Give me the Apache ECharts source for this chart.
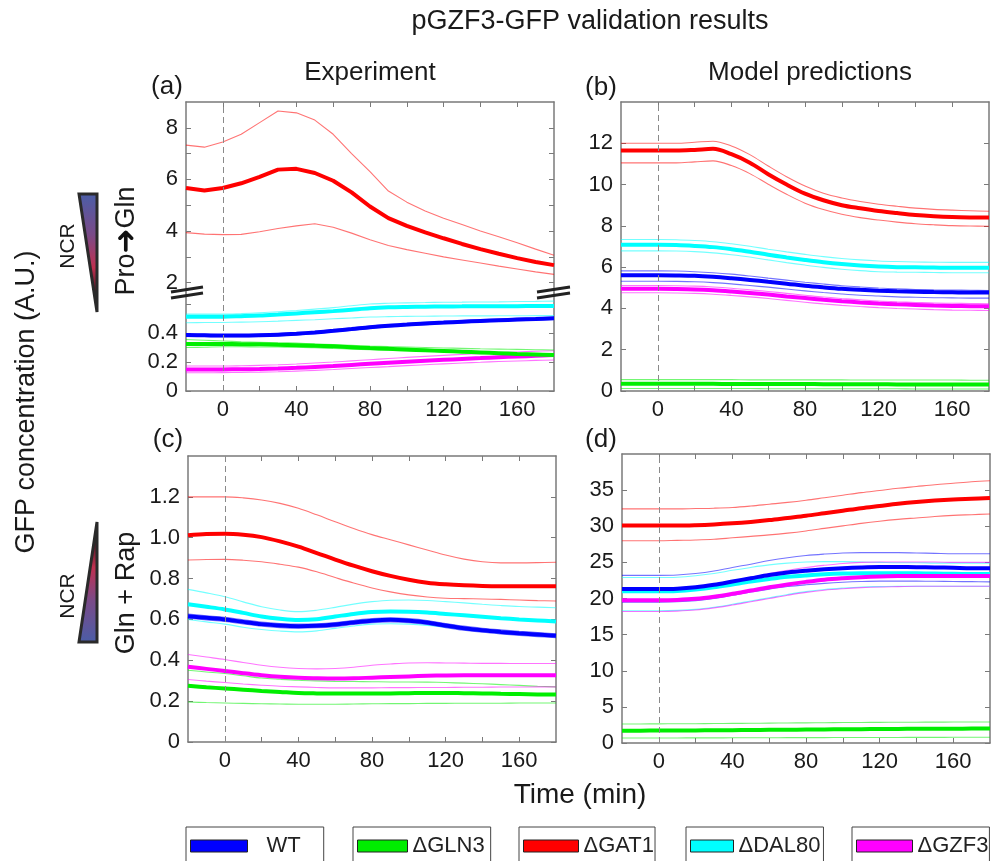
<!DOCTYPE html>
<html><head><meta charset="utf-8">
<script src="https://cdn.jsdelivr.net/npm/echarts@6/dist/echarts.min.js"></script>
<style>html,body{margin:0;padding:0;background:#fff}#c{width:1003px;height:861px}</style>
</head><body><div id="c"></div>
<script>
// ---------------- DATA ----------------
const T = [-20,-10,0,10,20,30,40,50,60,70,80,90,100,110,120,130,140,150,160,170,180];
const strains = ['WT','ΔGLN3','ΔGAT1','ΔDAL80','ΔGZF3'];
const xTicks = [0,20,40,60,80,100,120,140,160];
const xLabels = [0,40,80,120,160];

// (a) Experiment, Pro -> Gln (upper, broken axis part)
const aGAT1   = [5.67,5.57,5.67,5.85,6.1,6.38,6.41,6.25,5.95,5.5,4.95,4.5,4.2,3.95,3.72,3.5,3.3,3.12,2.95,2.8,2.68];
const aGAT1Hi = [7.33,7.25,7.45,7.75,8.2,8.65,8.58,8.3,7.75,7.0,6.3,5.55,5.12,4.78,4.5,4.25,4.0,3.78,3.55,3.3,3.06];
const aGAT1Lo = [3.94,3.88,3.86,3.87,3.97,4.1,4.2,4.28,4.15,3.92,3.66,3.44,3.28,3.14,3.0,2.88,2.76,2.64,2.53,2.42,2.32];
// (a) lower part
const aDAL80   = [0.513,0.513,0.513,0.516,0.52,0.527,0.535,0.543,0.551,0.561,0.571,0.577,0.58,0.582,0.583,0.584,0.585,0.585,0.585,0.586,0.586];
const aDAL80Hi = [0.53,0.53,0.53,0.534,0.54,0.547,0.555,0.565,0.575,0.588,0.6,0.605,0.608,0.61,0.612,0.613,0.614,0.615,0.617,0.618,0.62];
const aDAL80Lo = [0.471,0.472,0.473,0.475,0.478,0.482,0.487,0.492,0.498,0.504,0.51,0.513,0.515,0.516,0.517,0.518,0.518,0.519,0.519,0.52,0.52];
const aWT   = [0.386,0.384,0.382,0.382,0.384,0.388,0.395,0.404,0.415,0.427,0.44,0.45,0.458,0.466,0.472,0.478,0.483,0.488,0.493,0.497,0.501];
const aWTHi = [0.394,0.392,0.39,0.39,0.392,0.396,0.403,0.412,0.423,0.435,0.448,0.458,0.466,0.474,0.48,0.486,0.491,0.496,0.501,0.505,0.509];
const aWTLo = [0.378,0.376,0.374,0.374,0.376,0.38,0.387,0.396,0.407,0.419,0.432,0.442,0.45,0.458,0.464,0.47,0.475,0.48,0.485,0.489,0.493];
const aGLN3   = [0.324,0.324,0.324,0.323,0.322,0.319,0.316,0.312,0.308,0.302,0.296,0.291,0.286,0.281,0.276,0.271,0.266,0.261,0.256,0.252,0.248];
const aGLN3Hi = [0.355,0.35,0.345,0.34,0.336,0.333,0.33,0.325,0.32,0.315,0.31,0.306,0.303,0.3,0.297,0.294,0.291,0.289,0.287,0.285,0.283];
const aGLN3Lo = [0.3,0.302,0.305,0.305,0.304,0.303,0.302,0.298,0.293,0.289,0.285,0.281,0.277,0.273,0.27,0.266,0.262,0.258,0.254,0.25,0.245];
const aGZF3   = [0.149,0.149,0.149,0.15,0.152,0.155,0.16,0.166,0.172,0.18,0.188,0.195,0.202,0.209,0.215,0.221,0.227,0.233,0.238,0.243,0.248];
const aGZF3Hi = [0.172,0.172,0.172,0.174,0.177,0.181,0.186,0.193,0.2,0.208,0.216,0.224,0.232,0.239,0.246,0.252,0.258,0.264,0.269,0.274,0.278];
const aGZF3Lo = [0.126,0.126,0.127,0.128,0.13,0.133,0.137,0.142,0.148,0.155,0.162,0.168,0.175,0.181,0.187,0.193,0.198,0.203,0.207,0.211,0.214];

// (b) Model, Pro -> Gln
const bGAT1   = [11.65,11.65,11.65,11.65,11.68,11.73,11.47,11.06,10.5,10.0,9.56,9.24,9.0,8.85,8.72,8.62,8.53,8.47,8.43,8.41,8.4];
const bGAT1Hi = [12.0,12.0,12.0,12.0,12.05,12.1,11.87,11.45,10.9,10.38,9.93,9.58,9.35,9.18,9.05,8.95,8.86,8.8,8.76,8.73,8.71];
const bGAT1Lo = [11.05,11.05,11.05,11.05,11.1,11.15,10.92,10.53,10.02,9.53,9.1,8.79,8.56,8.4,8.28,8.18,8.1,8.05,8.01,7.99,7.98];
const bDAL80   = [7.08,7.08,7.08,7.07,7.03,6.97,6.87,6.75,6.6,6.47,6.35,6.24,6.15,6.08,6.03,6.0,5.99,5.98,5.97,5.97,5.97];
const bDAL80Hi = [7.34,7.34,7.34,7.33,7.29,7.23,7.13,7.01,6.87,6.74,6.62,6.51,6.42,6.35,6.3,6.27,6.25,6.24,6.23,6.23,6.23];
const bDAL80Lo = [6.79,6.79,6.79,6.78,6.75,6.69,6.6,6.49,6.35,6.22,6.1,5.99,5.9,5.83,5.78,5.76,5.75,5.74,5.73,5.73,5.73];
const bWT   = [5.61,5.61,5.61,5.6,5.58,5.53,5.46,5.38,5.29,5.2,5.1,5.02,4.95,4.9,4.86,4.83,4.81,4.79,4.78,4.77,4.77];
const bWTHi = [5.82,5.82,5.82,5.81,5.78,5.73,5.66,5.57,5.47,5.37,5.27,5.18,5.1,5.04,4.99,4.95,4.92,4.9,4.89,4.88,4.87];
const bWTLo = [5.32,5.32,5.32,5.31,5.29,5.25,5.19,5.11,5.03,4.94,4.85,4.77,4.7,4.64,4.6,4.56,4.54,4.52,4.51,4.5,4.5];
const bGZF3   = [4.95,4.95,4.95,4.94,4.92,4.88,4.82,4.75,4.67,4.58,4.5,4.42,4.35,4.29,4.24,4.2,4.17,4.14,4.12,4.11,4.1];
const bGZF3Hi = [5.11,5.11,5.11,5.1,5.08,5.04,4.98,4.9,4.82,4.73,4.64,4.55,4.48,4.42,4.36,4.32,4.29,4.26,4.25,4.24,4.23];
const bGZF3Lo = [4.76,4.76,4.76,4.75,4.73,4.69,4.63,4.56,4.48,4.39,4.3,4.22,4.15,4.09,4.04,4.0,3.97,3.94,3.92,3.91,3.9];
const bGLN3   = [0.35,0.35,0.35,0.35,0.35,0.35,0.34,0.34,0.34,0.34,0.34,0.33,0.33,0.33,0.33,0.32,0.32,0.32,0.32,0.31,0.31];
const bGLN3Hi = [0.55,0.55,0.55,0.55,0.55,0.55,0.55,0.54,0.54,0.54,0.54,0.54,0.54,0.53,0.53,0.53,0.53,0.53,0.53,0.52,0.52];
const bGLN3Lo = [0.12,0.12,0.12,0.12,0.12,0.12,0.12,0.12,0.11,0.11,0.11,0.11,0.11,0.11,0.11,0.11,0.1,0.1,0.1,0.1,0.1];

// (c) Experiment, Gln + Rap
const cGAT1   = [1.012,1.018,1.02,1.015,1.003,0.982,0.956,0.925,0.893,0.863,0.836,0.813,0.794,0.78,0.772,0.767,0.764,0.763,0.763,0.763,0.763];
const cGAT1Hi = [1.2,1.2,1.2,1.195,1.185,1.168,1.144,1.112,1.078,1.045,1.015,0.99,0.965,0.94,0.915,0.895,0.882,0.877,0.877,0.878,0.88];
const cGAT1Lo = [0.891,0.893,0.894,0.89,0.882,0.87,0.856,0.833,0.805,0.778,0.754,0.735,0.72,0.71,0.704,0.702,0.7,0.698,0.695,0.692,0.69];
const cDAL80   = [0.674,0.662,0.649,0.632,0.614,0.603,0.597,0.601,0.614,0.627,0.636,0.639,0.638,0.634,0.627,0.62,0.613,0.606,0.6,0.595,0.59];
const cDAL80Hi = [0.747,0.73,0.711,0.686,0.662,0.646,0.638,0.645,0.659,0.675,0.687,0.694,0.695,0.693,0.687,0.681,0.674,0.668,0.663,0.66,0.657];
const cDAL80Lo = [0.6,0.588,0.577,0.562,0.551,0.543,0.539,0.544,0.556,0.568,0.577,0.579,0.577,0.571,0.562,0.551,0.541,0.532,0.525,0.52,0.515];
const cWT   = [0.616,0.608,0.6,0.588,0.577,0.57,0.567,0.569,0.575,0.585,0.594,0.598,0.594,0.585,0.57,0.557,0.547,0.539,0.532,0.526,0.52];
const cWTHi = [0.626,0.618,0.61,0.598,0.587,0.58,0.577,0.579,0.585,0.595,0.604,0.608,0.604,0.595,0.58,0.567,0.557,0.549,0.542,0.536,0.53];
const cWTLo = [0.606,0.598,0.59,0.578,0.567,0.56,0.557,0.559,0.565,0.575,0.584,0.588,0.584,0.575,0.56,0.547,0.537,0.529,0.522,0.516,0.51];
const cGZF3   = [0.368,0.358,0.348,0.337,0.327,0.319,0.314,0.312,0.311,0.312,0.315,0.318,0.321,0.324,0.326,0.327,0.327,0.327,0.327,0.327,0.327];
const cGZF3Hi = [0.428,0.416,0.404,0.389,0.376,0.366,0.36,0.358,0.36,0.366,0.376,0.382,0.387,0.388,0.387,0.386,0.385,0.385,0.384,0.384,0.384];
const cGZF3Lo = [0.306,0.298,0.291,0.284,0.278,0.273,0.27,0.267,0.265,0.265,0.265,0.266,0.266,0.267,0.267,0.268,0.268,0.269,0.269,0.27,0.27];
const cGLN3   = [0.275,0.268,0.262,0.256,0.25,0.245,0.24,0.238,0.237,0.237,0.237,0.238,0.239,0.24,0.24,0.239,0.238,0.236,0.235,0.233,0.232];
const cGLN3Hi = [0.351,0.343,0.335,0.324,0.313,0.307,0.302,0.299,0.297,0.296,0.295,0.294,0.294,0.293,0.291,0.288,0.285,0.281,0.277,0.273,0.27];
const cGLN3Lo = [0.196,0.193,0.191,0.189,0.187,0.186,0.185,0.185,0.185,0.186,0.187,0.188,0.188,0.189,0.189,0.19,0.19,0.19,0.191,0.191,0.191];

// (d) Model, Gln + Rap
const dGAT1   = [30.1,30.1,30.1,30.1,30.15,30.25,30.4,30.6,30.85,31.15,31.45,31.8,32.15,32.5,32.8,33.1,33.35,33.55,33.7,33.8,33.9];
const dGAT1Hi = [32.4,32.4,32.4,32.4,32.45,32.5,32.6,32.8,33.05,33.3,33.6,33.95,34.3,34.65,34.95,35.25,35.5,35.75,35.95,36.15,36.3];
const dGAT1Lo = [28.0,28.0,28.0,28.05,28.1,28.2,28.4,28.6,28.8,29.05,29.35,29.7,30.05,30.4,30.7,30.95,31.15,31.35,31.5,31.6,31.7];
const dWT   = [21.3,21.3,21.3,21.35,21.55,21.9,22.35,22.8,23.25,23.6,23.85,24.05,24.2,24.3,24.35,24.35,24.33,24.3,24.25,24.2,24.2];
const dWTHi = [23.2,23.2,23.2,23.25,23.45,23.8,24.3,24.75,25.25,25.65,25.95,26.15,26.3,26.35,26.35,26.35,26.3,26.25,26.2,26.2,26.2];
const dWTLo = [19.5,19.5,19.5,19.55,19.7,20.0,20.45,20.9,21.3,21.65,21.9,22.1,22.25,22.35,22.4,22.4,22.4,22.38,22.35,22.33,22.3];
const dDAL80   = [21.0,21.0,21.0,21.05,21.25,21.55,21.95,22.35,22.7,23.0,23.2,23.35,23.45,23.5,23.5,23.5,23.48,23.45,23.42,23.4,23.4];
const dDAL80Hi = [22.9,22.9,22.9,22.95,23.15,23.45,23.9,24.3,24.65,24.9,25.05,25.1,25.1,25.05,25.0,24.95,24.95,24.9,24.9,24.9,24.9];
const dDAL80Lo = [18.3,18.3,18.3,18.35,18.5,18.8,19.2,19.65,20.1,20.55,20.95,21.25,21.45,21.6,21.65,21.7,21.7,21.7,21.7,21.7,21.7];
const dGZF3   = [19.75,19.75,19.75,19.8,19.95,20.25,20.65,21.1,21.55,21.95,22.3,22.6,22.8,22.95,23.05,23.1,23.12,23.12,23.12,23.1,23.1];
const dGZF3Hi = [21.4,21.4,21.4,21.45,21.65,22.0,22.45,22.95,23.45,23.9,24.3,24.6,24.85,25.0,25.05,25.05,25.05,25.05,25.0,25.0,25.0];
const dGZF3Lo = [18.2,18.2,18.2,18.25,18.4,18.7,19.1,19.55,20.0,20.45,20.85,21.15,21.35,21.5,21.6,21.65,21.7,21.7,21.7,21.7,21.7];
const dGLN3   = [1.71,1.71,1.72,1.73,1.74,1.76,1.78,1.8,1.82,1.84,1.86,1.88,1.9,1.92,1.93,1.95,1.96,1.97,1.98,1.99,1.99];
const dGLN3Hi = [2.64,2.64,2.65,2.66,2.67,2.69,2.71,2.73,2.75,2.77,2.79,2.81,2.83,2.84,2.86,2.87,2.88,2.89,2.9,2.91,2.91];
const dGLN3Lo = [0.69,0.69,0.7,0.7,0.71,0.71,0.72,0.73,0.73,0.74,0.75,0.75,0.76,0.76,0.77,0.77,0.78,0.78,0.79,0.79,0.79];

// ---------------- STYLE / BUILD ----------------
const COL = {'WT':'#0000ff','ΔGLN3':'#00ee00','ΔGAT1':'#ff0000','ΔDAL80':'#00ffff','ΔGZF3':'#ff00ff'};
const SANS = "'Liberation Sans', Arial, Helvetica, sans-serif";
const AX = '#7a7a7a';
const TXT = '#1a1a1a';

const grids = [
  {left:186, top:102, width:368, height:191},
  {left:186, top:293, width:368, height:98},
  {left:621, top:102, width:368, height:289},
  {left:188, top:456, width:368, height:286},
  {left:622, top:454, width:368, height:289}
];
const yCfg = [
  {min:1.6, max:9, ticks:[2,3,4,5,6,7,8], labels:[2,4,6,8], fmt:v=>String(v)},
  {min:0, max:0.676, ticks:[0,0.2,0.4,0.6], labels:[0,0.2,0.4], fmt:v=>v===0?'0':v.toFixed(1)},
  {min:0, max:14, ticks:[0,2,4,6,8,10,12], labels:[0,2,4,6,8,10,12], fmt:v=>String(v)},
  {min:0, max:1.4, ticks:[0,0.2,0.4,0.6,0.8,1.0,1.2], labels:[0,0.2,0.4,0.6,0.8,1.0,1.2], fmt:v=>v===0?'0':v.toFixed(1)},
  {min:0, max:40, ticks:[0,5,10,15,20,25,30,35], labels:[0,5,10,15,20,25,30,35], fmt:v=>String(v)}
];
const showBottom = [false,true,true,true,true];
const showTop = [true,false,true,true,true];

const xAxis = [], yAxis = [];
grids.forEach((g,i)=>{
  const lineS = {show:true, onZero:false, lineStyle:{color:AX, width:1.5}};
  xAxis.push({type:'value', gridIndex:i, position:'bottom', min:-20, max:180, show:showBottom[i],
    axisLine:lineS, splitLine:{show:false},
    axisTick:{show:true, inside:true, length:5, customValues:xTicks, lineStyle:{color:AX, width:1}},
    axisLabel:{show:true, customValues:xLabels, fontSize:22, color:TXT, fontFamily:SANS, margin:8}});
  xAxis.push({type:'value', gridIndex:i, position:'top', min:-20, max:180, show:showTop[i],
    axisLine:lineS, splitLine:{show:false},
    axisTick:{show:true, inside:true, length:5, customValues:xTicks, lineStyle:{color:AX, width:1}},
    axisLabel:{show:false}});
  const c = yCfg[i];
  yAxis.push({type:'value', gridIndex:i, position:'left', min:c.min, max:c.max,
    axisLine:lineS, splitLine:{show:false},
    axisTick:{show:true, inside:true, length:5, customValues:c.ticks, lineStyle:{color:AX, width:1}},
    axisLabel:{show:true, customValues:c.labels, formatter:c.fmt, fontSize:22, color:TXT, fontFamily:SANS, margin:8}});
  yAxis.push({type:'value', gridIndex:i, position:'right', min:c.min, max:c.max,
    axisLine:lineS, splitLine:{show:false},
    axisTick:{show:true, inside:true, length:5, customValues:c.ticks, lineStyle:{color:AX, width:1}},
    axisLabel:{show:false}});
});

const series = [];
function add(name, vals, gi, strain, main, smooth, mark){
  const s = {type:'line', name: main?strain:(strain+' sd'), xAxisIndex:2*gi, yAxisIndex:2*gi,
    data: T.map((t,k)=>[t, vals[k]]), showSymbol:false, symbol:'none', silent:true, animation:false,
    smooth: smooth ? 0.35 : false, clip:true,
    lineStyle:{color:COL[strain], width: main?4:1.1, opacity: main?1:0.55},
    itemStyle:{color:COL[strain]}, z: main?4:3};
  if (mark) s.markLine = {silent:true, symbol:'none', animation:false, label:{show:false},
    lineStyle:{type:[6,4], color:'#8a8a8a', width:1}, data:[{xAxis:0}]};
  series.push(s);
}
// panel a (upper)
add('aGAT1Hi', aGAT1Hi, 0, 'ΔGAT1', false, false, true);
add('aGAT1Lo', aGAT1Lo, 0, 'ΔGAT1', false, false);
add('aGAT1',   aGAT1,   0, 'ΔGAT1', true, false);
// panel a (lower)
const lowA = [['ΔDAL80',aDAL80,aDAL80Hi,aDAL80Lo],['ΔGZF3',aGZF3,aGZF3Hi,aGZF3Lo],['ΔGLN3',aGLN3,aGLN3Hi,aGLN3Lo],['WT',aWT,aWTHi,aWTLo]];
lowA.forEach((r,k)=>{ add('',r[2],1,r[0],false,true,k===0); add('',r[3],1,r[0],false,true); });
lowA.forEach(r=>add('',r[1],1,r[0],true,true));
// panel b
const pb = [['ΔGLN3',bGLN3,bGLN3Hi,bGLN3Lo],['ΔGZF3',bGZF3,bGZF3Hi,bGZF3Lo],['WT',bWT,bWTHi,bWTLo],['ΔDAL80',bDAL80,bDAL80Hi,bDAL80Lo],['ΔGAT1',bGAT1,bGAT1Hi,bGAT1Lo]];
pb.forEach((r,k)=>{ add('',r[2],2,r[0],false,true,k===0); add('',r[3],2,r[0],false,true); });
pb.forEach(r=>add('',r[1],2,r[0],true,true));
// panel c
const pc = [['ΔGLN3',cGLN3,cGLN3Hi,cGLN3Lo],['ΔGZF3',cGZF3,cGZF3Hi,cGZF3Lo],['ΔDAL80',cDAL80,cDAL80Hi,cDAL80Lo],['WT',cWT,cWTHi,cWTLo],['ΔGAT1',cGAT1,cGAT1Hi,cGAT1Lo]];
pc.forEach((r,k)=>{ add('',r[2],3,r[0],false,true,k===0); add('',r[3],3,r[0],false,true); });
pc.forEach(r=>add('',r[1],3,r[0],true,true));
// panel d
const pd = [['ΔGLN3',dGLN3,dGLN3Hi,dGLN3Lo],['ΔDAL80',dDAL80,dDAL80Hi,dDAL80Lo],['ΔGZF3',dGZF3,dGZF3Hi,dGZF3Lo],['WT',dWT,dWTHi,dWTLo],['ΔGAT1',dGAT1,dGAT1Hi,dGAT1Lo]];
pd.forEach((r,k)=>{ add('',r[2],4,r[0],false,true,k===0); add('',r[3],4,r[0],false,true); });
pd.forEach(r=>add('',r[1],4,r[0],true,true));

// legends: one bordered box per strain
const legLeft  = [186,353,519,686,852];
const legIconW = [57,50,55,43,56];
const legPadL  = [14,0,0,0,0];
const legPadR  = [23,6,1,3,1];
const legend = strains.map((n,i)=>({
  data:[{name:n, icon:'rect', itemStyle:{color:COL[n], borderColor:'#222', borderWidth:1}}],
  left:legLeft[i], top:827, orient:'horizontal', selectedMode:false,
  itemWidth:legIconW[i], itemHeight:12,
  borderColor:'#444', borderWidth:1, borderRadius:0, padding:[8,legPadR[i],20,4],
  textStyle:{fontSize:22, fontFamily:SANS, color:'#222', padding:[0,0,0,legPadL[i]]}
}));

function txt(s, x, y, size, rot, extra){
  return Object.assign({type:'text', x:x, y:y, rotation:rot||0, silent:true,
    style:{text:s, x:0, y:0, align:'center', verticalAlign:'middle', fontSize:size, fontFamily:SANS, fill:TXT}}, extra||{});
}
const gradDown = {type:'linear', x:0, y:0, x2:0, y2:1, colorStops:[
  {offset:0, color:'#4a5ea8'},{offset:0.35, color:'#7a4a88'},{offset:0.62, color:'#c03050'},{offset:0.8, color:'#5a1a2a'},{offset:1, color:'#222'}]};
const gradUp = {type:'linear', x:0, y:1, x2:0, y2:0, colorStops:[
  {offset:0, color:'#4a5ea8'},{offset:0.35, color:'#7a4a88'},{offset:0.62, color:'#c03050'},{offset:0.8, color:'#5a1a2a'},{offset:1, color:'#222'}]};

const graphic = [
  txt('pGZF3-GFP validation results', 590, 22, 27),
  txt('Experiment', 370, 73, 26),
  txt('Model predictions', 810, 73, 26),
  txt('(a)', 167, 87, 26), txt('(b)', 601, 88, 26),
  txt('(c)', 168, 440, 26), txt('(d)', 601, 440, 26),
  txt('Time (min)', 580, 795, 28),
  txt('GFP concentration (A.U.)', 27, 402, 27, Math.PI/2),
  txt('NCR', 68, 246, 21, Math.PI/2),
  txt('NCR', 68, 596, 21, Math.PI/2),
  {type:'text', x:127, y:241, rotation:Math.PI/2, silent:true,
   style:{text:'{t|Pro}{a|➜}{t|Gln}', x:0, y:0, align:'center', verticalAlign:'middle',
     rich:{t:{fontSize:27, fontFamily:SANS, fill:TXT}, a:{fontSize:30, fontFamily:"'DejaVu Sans'", fill:'#111', fontWeight:'bold'}}}},
  txt('Gln + Rap', 127, 593, 27, Math.PI/2),
  {type:'polygon', silent:true, shape:{points:[[79,194],[97,194],[97,312]]},
   style:{fill:gradDown, stroke:'#2a2a2a', lineWidth:3, lineJoin:'miter'}},
  {type:'polygon', silent:true, shape:{points:[[79,642],[97,642],[97,522]]},
   style:{fill:gradUp, stroke:'#2a2a2a', lineWidth:3, lineJoin:'miter'}},
  // axis break marks
  {type:'line', silent:true, z:100, shape:{x1:171,y1:292,x2:203,y2:287}, style:{stroke:'#222', lineWidth:3}},
  {type:'line', silent:true, z:100, shape:{x1:171,y1:298,x2:203,y2:293}, style:{stroke:'#222', lineWidth:3}},
  {type:'line', silent:true, z:100, shape:{x1:537,y1:292,x2:570,y2:287}, style:{stroke:'#222', lineWidth:3}},
  {type:'line', silent:true, z:100, shape:{x1:537,y1:298,x2:570,y2:293}, style:{stroke:'#222', lineWidth:3}}
];

const chart = echarts.init(document.getElementById('c'), null, {renderer:'canvas'});
chart.setOption({
  backgroundColor:'#ffffff', animation:false,
  grid: grids.map(g=>Object.assign({containLabel:false, show:false}, g)),
  xAxis, yAxis, series, legend, graphic
});
</script></body></html>
